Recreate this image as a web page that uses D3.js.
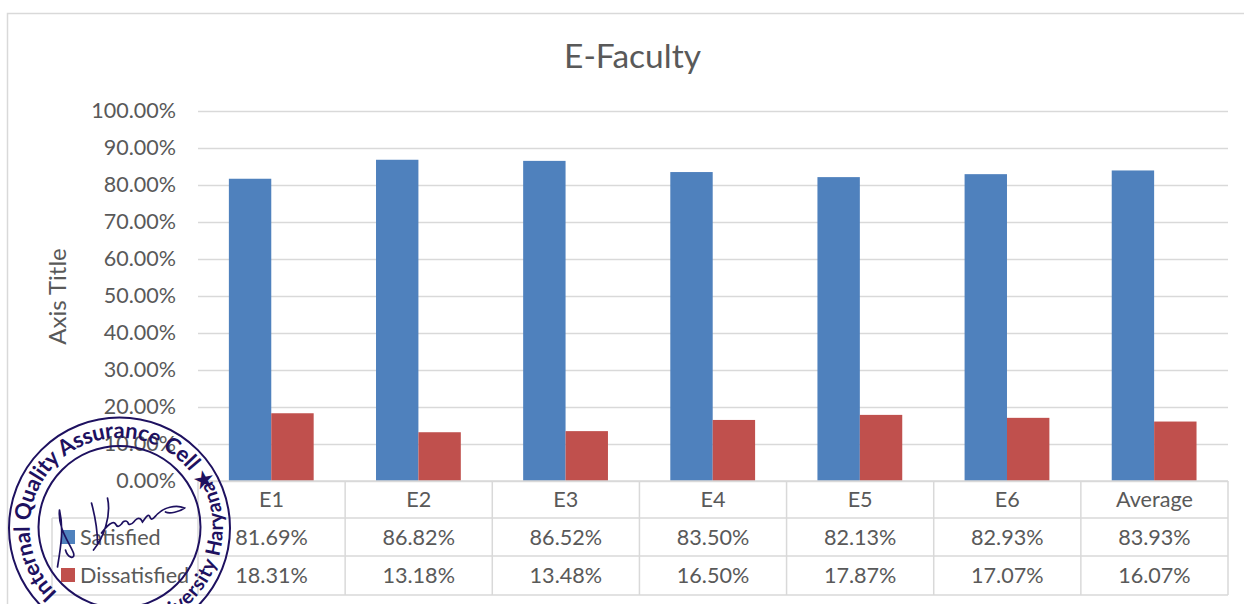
<!DOCTYPE html>
<html><head><meta charset="utf-8">
<script src="https://cdn.jsdelivr.net/npm/d3@7"></script>
<style>html,body{margin:0;background:#fff}svg{display:block}text{font-family:Lato,"Open Sans",sans-serif}</style>
</head><body><svg id="c" width="1244" height="604"></svg>
<script>
const categories=["E1","E2","E3","E4","E5","E6","Average"];
const satisfied=[81.69,86.82,86.52,83.50,82.13,82.93,83.93];
const dissatisfied=[18.31,13.18,13.48,16.50,17.87,17.07,16.07];
const seriesNames=["Satisfied","Dissatisfied"];
const seriesColors=["#4f81bd","#c0504d"];
const yTicks=[0,10,20,30,40,50,60,70,80,90,100];
const chartTitle="E-Faculty", axisTitle="Axis Title";
const stampTop="Internal Quality Assurance Cell ★", stampBottom="University Haryana";

const svg=d3.select("#c");
const grid="#d9d9d9", ink="#595959";
const L=198,R=1228,T=111,B=481;
const rowY=[481,518,556,595];
const y=d3.scaleLinear().domain([0,100]).range([B,T]);
const x=d3.scaleBand().domain(categories).range([L,R]);
svg.append("path").attr("d","M7.5,604V13.5H1244").attr("fill","none").attr("stroke",grid).attr("stroke-width",1.5);
svg.append("text").attr("x",632.5).attr("y",68).attr("text-anchor","middle").attr("font-size",33.5).attr("fill",ink).text(chartTitle);
svg.append("text").attr("transform","translate(66,296.5) rotate(-90)").attr("text-anchor","middle").attr("font-size",24).attr("fill",ink).text(axisTitle);
const yAxis=d3.axisLeft(y).tickValues(yTicks).tickSize(L-R).tickPadding(22).tickFormat(d=>d3.format(".2f")(d)+"%");
const ga=svg.append("g").attr("transform",`translate(${L},0)`).call(yAxis);
ga.select(".domain").remove();
ga.selectAll("line").attr("stroke",grid).attr("stroke-width",1.5).attr("x2",R-L);
ga.selectAll("text").attr("fill",ink).attr("font-size",21.5).attr("font-family","Lato");
const barW=42.4;
[satisfied,dissatisfied].forEach((vals,s)=>{
  svg.append("g").selectAll("rect").data(vals).join("rect")
    .attr("x",(d,i)=>x(categories[i])+x.bandwidth()/2+(s-1)*barW-0.3)
    .attr("width",barW).attr("y",d=>y(d)).attr("height",d=>B-y(d)).attr("fill",seriesColors[s]);
});
const tb=svg.append("g").attr("stroke",grid).attr("stroke-width",1.5).attr("fill","none");
rowY.forEach((ry,i)=>tb.append("line").attr("x1",i===0?L:52).attr("x2",R).attr("y1",ry).attr("y2",ry));
tb.append("line").attr("x1",52).attr("x2",52).attr("y1",rowY[1]).attr("y2",rowY[3]);
[...categories.map(c=>x(c)),R].forEach(px=>tb.append("line").attr("x1",px).attr("x2",px).attr("y1",rowY[0]).attr("y2",rowY[3]));
const pct=d3.format(".2f");
const cell=(t,cx,cy)=>svg.append("text").attr("x",cx).attr("y",cy).attr("text-anchor","middle").attr("font-size",21.6).attr("fill",ink).text(t);
categories.forEach((c,i)=>{
  const cx=x(c)+x.bandwidth()/2;
  cell(c,cx,507);cell(pct(satisfied[i])+"%",cx,545);cell(pct(dissatisfied[i])+"%",cx,583);
});
const legendY=[530,568];
seriesNames.forEach((n,i)=>{
  svg.append("rect").attr("x",61).attr("y",legendY[i]).attr("width",14).attr("height",14).attr("fill",seriesColors[i]);
  svg.append("text").attr("x",80).attr("y",legendY[i]+14.5).attr("font-size",21.6).attr("fill",ink).text(n);
});
// stamp
const st=svg.append("g").attr("transform","translate(119.5,528)");
const navy="#1e1160";
st.append("circle").attr("r",110.5).attr("fill","none").attr("stroke",navy).attr("stroke-width",2);
st.append("circle").attr("cy",-1).attr("r",81).attr("fill","none").attr("stroke",navy).attr("stroke-width",2);
const defs=svg.append("defs");
defs.append("path").attr("id","topArc").attr("d","M-62,65A90,90 0 1 1 89,14");
defs.append("path").attr("id","botArc").attr("d","M-73,74A104,104 0 0 0 92,-48");
st.append("text").attr("font-size",22).attr("font-weight",700).attr("fill",navy).attr("letter-spacing",-0.2)
  .append("textPath").attr("href","#topArc").text(stampTop);
st.append("text").attr("font-size",20).attr("font-weight",700).attr("fill",navy).attr("letter-spacing",0.6).attr("text-anchor","end")
  .append("textPath").attr("href","#botArc").attr("startOffset","100%").text(stampBottom);
st.append("path").attr("fill","none").attr("stroke",navy).attr("stroke-width",1.7).attr("stroke-linecap","round")
 .attr("d","M-60,-18C-56,0 -58,15 -62,39M-60,-18C-62,0 -50,15 -46,25C-44,32 -52,30 -54,22M-28,-25C-24,-10 -22,5 -22,15M-12,-30C-8,-12 -16,10 -26,22M-18,5C-12,-3 -6,-8 -4,-4C-2,0 0,-2 2,-4C4,-8 8,-8 9,-4C12,-2 14,-6 16,-8C20,-12 22,-8 23,-6C26,-10 28,-14 30,-12C32,-6 34,-10 38,-14C44,-20 56,-24 65,-20C60,-16 50,-14 46,-16");
</script></body></html>
